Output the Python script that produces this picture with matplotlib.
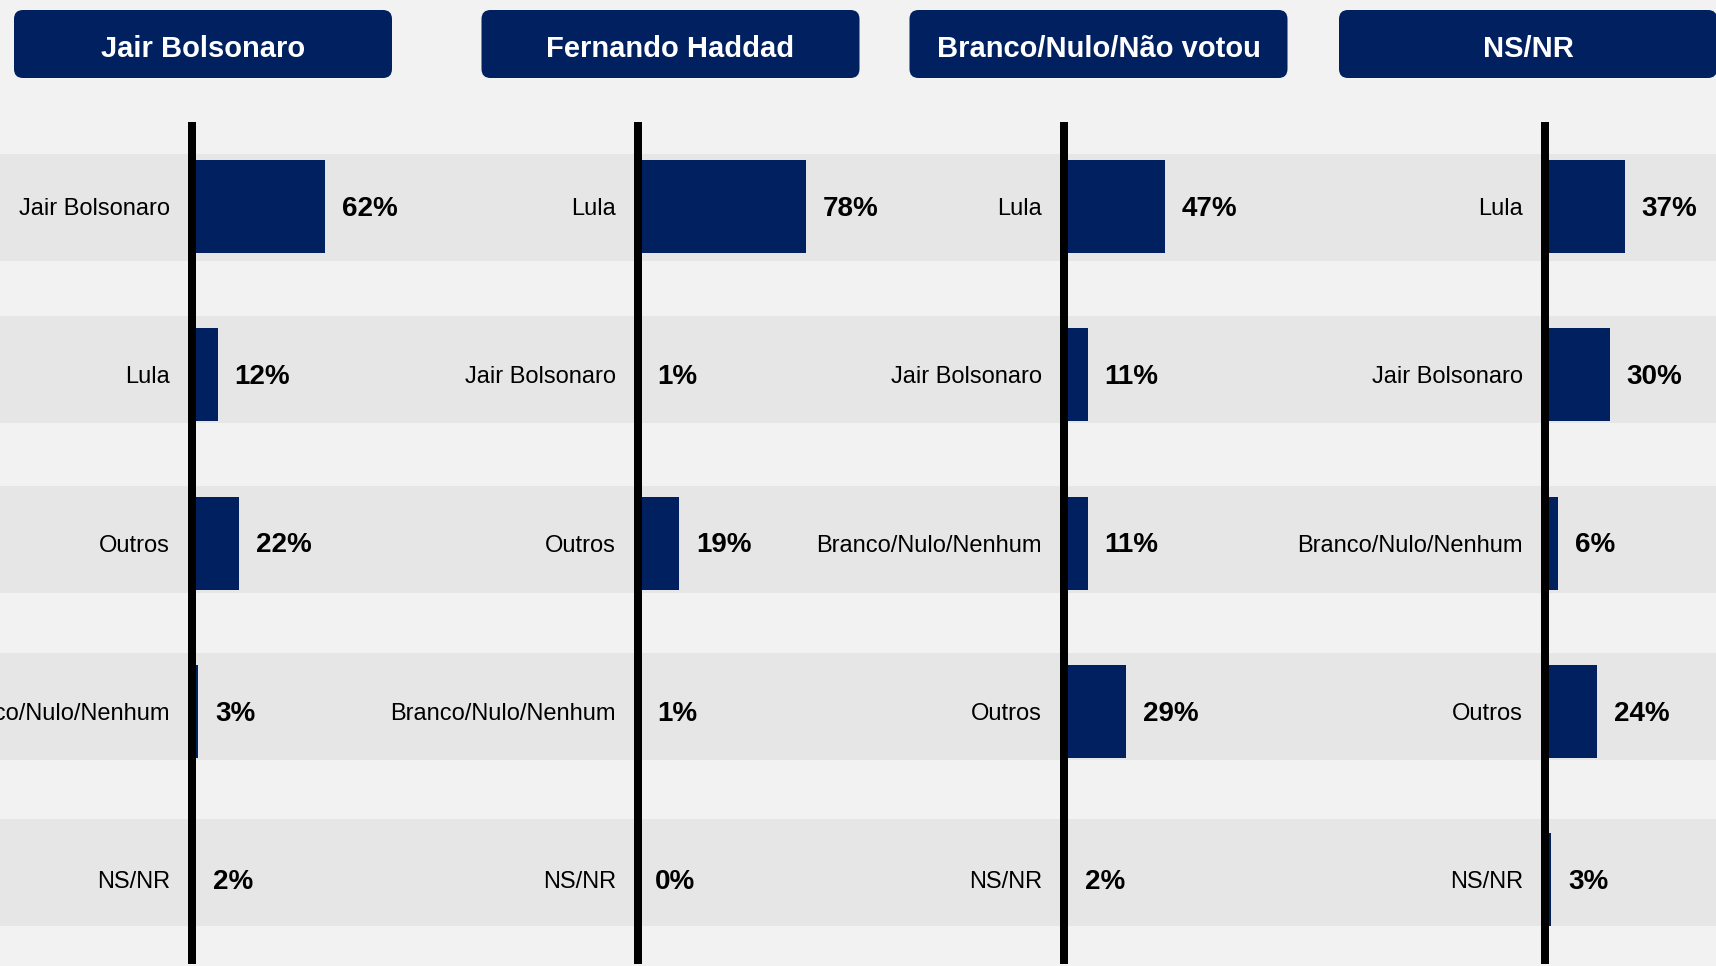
import matplotlib.pyplot as plt
from matplotlib.patches import FancyBboxPatch

plt.rcParams['font.family'] = ['Liberation Sans', 'DejaVu Sans']

# Vote in 2018 (panel headers) vs. current voting intention
headers = ["Jair Bolsonaro", "Fernando Haddad", "Branco/Nulo/Não votou", "NS/NR"]

cats_bolsonaro = ["Jair Bolsonaro", "Lula", "Outros", "Branco/Nulo/Nenhum", "NS/NR"]
vals_bolsonaro = [62, 12, 22, 3, 2]

cats_haddad = ["Lula", "Jair Bolsonaro", "Outros", "Branco/Nulo/Nenhum", "NS/NR"]
vals_haddad = [78, 1, 19, 1, 0]

cats_branco = ["Lula", "Jair Bolsonaro", "Branco/Nulo/Nenhum", "Outros", "NS/NR"]
vals_branco = [47, 11, 11, 29, 2]

cats_nsnr = ["Lula", "Jair Bolsonaro", "Branco/Nulo/Nenhum", "Outros", "NS/NR"]
vals_nsnr = [37, 30, 6, 24, 3]

panels = [
    (cats_bolsonaro, vals_bolsonaro),
    (cats_haddad, vals_haddad),
    (cats_branco, vals_branco),
    (cats_nsnr, vals_nsnr),
]

NAVY = "#002060"
BG = "#f2f2f2"
BAND = "#e6e6e6"

W, H = 1716, 966
DPI = 100
PX_PER_PCT = 2.15          # horizontal scale of the bars
ROW0, ROW_STEP = 206.5, 168.3   # pixel centre of first row and row spacing
band_shift_px = [1, -5, -3.5, -5, -7]   # bands sit slightly off the bar rows
axis_x = [192, 638, 1064, 1545]
header_x = [14, 481.5, 909.5, 1339]
header_w, header_top, header_bot = 378, 10, 78
panel_w = 420

# y limits in row units so every axes shares the same vertical scale
ylim = ((H - ROW0) / ROW_STEP, -ROW0 / ROW_STEP)

fig = plt.figure(figsize=(W / DPI, H / DPI), dpi=DPI, facecolor=BG)

# background: grey bands behind each row, running the full width
ax_bg = fig.add_axes([0, 0, 1, 1], zorder=0)
ax_bg.set_facecolor(BG)
ax_bg.set_xlim(0, 1)
ax_bg.set_ylim(*ylim)
band_y = [r + s / ROW_STEP for r, s in enumerate(band_shift_px)]
ax_bg.barh(band_y, 1, left=0, height=107 / ROW_STEP, color=BAND)
ax_bg.axis("off")

# header boxes, drawn in pixel space
ax_hd = fig.add_axes([0, 0, 1, 1], zorder=1)
ax_hd.set_xlim(0, W)
ax_hd.set_ylim(H, 0)
ax_hd.patch.set_alpha(0)
ax_hd.axis("off")
for x0, title in zip(header_x, headers):
    box = FancyBboxPatch((x0, header_top), header_w, header_bot - header_top,
                         boxstyle="round,pad=0,rounding_size=9",
                         facecolor=NAVY, edgecolor="none")
    ax_hd.add_patch(box)
    ax_hd.text(x0 + header_w / 2, (header_top + header_bot) / 2 + 5, title,
               color="white", fontsize=21, fontweight="bold",
               ha="center", va="center")

for ax_px, (cats, vals) in zip(axis_x, panels):
    ax = fig.add_axes([ax_px / W, 0, panel_w / W, 1], zorder=2)
    ax.patch.set_alpha(0)
    ax.set_xlim(0, panel_w / PX_PER_PCT)
    ax.set_ylim(*ylim)
    ax.barh(range(len(vals)), vals, height=93 / ROW_STEP, color=NAVY)

    for i, v in enumerate(vals):
        ax.annotate(f"{v}%", (v, i), xytext=(12.2, -1.6), textcoords="offset points",
                    ha="left", va="center", fontsize=20, fontweight="bold",
                    annotation_clip=False)

    ax.set_yticks(range(len(cats)))
    ax.set_yticklabels(cats, fontsize=17)
    ax.tick_params(axis="y", length=0, pad=15.8)
    ax.set_xticks([])
    for side in ("top", "right", "bottom"):
        ax.spines[side].set_visible(False)
    ax.spines["left"].set_linewidth(5.76)
    ax.spines["left"].set_capstyle("butt")
    ax.spines["left"].set_bounds(-0.5, 4.5)

fig.savefig("out.png", dpi=DPI, facecolor=BG)
